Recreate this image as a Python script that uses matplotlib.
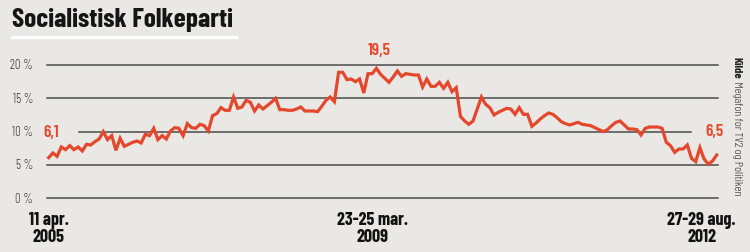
import matplotlib
matplotlib.use("Agg")
import matplotlib.pyplot as plt
from matplotlib.lines import Line2D

# Megafon polls for SF, 11 apr. 2005 -> 27-29 aug. 2012 (percent)
support_2005_2008 = [
    6.1, 6.8, 6.3, 7.7, 7.3, 7.9, 7.3, 7.7, 7.1, 8.1,
    8.0, 8.5, 8.9, 10.0, 8.8, 9.4, 7.2, 9.0, 7.8, 8.1,
    8.4, 8.6, 8.3, 9.6, 9.4, 10.5, 8.8, 9.4, 8.9, 10.1,
    10.6, 10.5, 9.4, 11.2, 10.6, 10.5, 11.1, 10.9, 10.1, 12.4,
    12.7, 13.6, 13.2, 13.2, 15.2, 13.5, 13.7, 14.7,
]
support_2008_2010 = [
    14.4, 13.1, 14.0, 13.4, 13.9, 14.4, 15.0, 13.3, 13.3, 13.2,
    13.2, 13.4, 13.7, 13.1, 13.1, 13.1, 13.0, 13.8, 14.7, 15.2,
    14.5, 18.9, 18.9, 17.8, 17.9, 17.5, 17.9, 15.8, 18.7, 18.7,
    19.5, 18.6, 18.0, 17.4, 18.2, 19.1, 18.3, 18.7, 18.6, 18.5,
    18.5, 16.7, 17.9, 16.8, 16.8, 17.4, 16.5, 17.4, 16.0, 16.6,
    12.3, 11.6, 11.1, 11.6, 13.4, 15.2, 14.1, 13.6, 12.5, 12.9,
    13.2,
]
support_2010_2012 = [
    13.5, 13.4, 12.6, 13.6, 12.6, 12.6, 10.8, 11.3, 11.9, 12.4,
    12.8, 12.6, 12.1, 11.5, 11.2, 11.0, 11.2, 11.4, 11.1, 11.0,
    10.9, 10.6, 10.3, 10.0, 10.3, 10.9, 11.4, 11.6, 11.0, 10.4,
    10.4, 10.3, 9.5, 10.5, 10.7, 10.7, 10.7, 10.5,
    8.4, 7.9, 6.9, 7.4, 7.4, 8.0, 6.0, 5.5, 7.6, 5.9,
    5.1, 5.6, 6.5,
]
support = support_2005_2008 + support_2008_2010 + support_2010_2012

grid_levels = [0, 5, 10, 15, 20]
grid_labels = ["0 %", "5 %", "10 %", "15 %", "20 %"]
date_labels = ["11 apr.\n2005", "23-25 mar.\n2009", "27-29 aug.\n2012"]

title = "Socialistisk Folkeparti"
source_bold = "Kilde"
source_rest = " Megafon for TV2 og Politiken"

BG = "#e9e8e5"
RED = "#e4472b"
GRID = "#4b4b4b"
NARROW = ["Barlow Condensed", "DejaVu Sans"]

W, H = 750, 253


def fx(x):
    return x / W


def fy(y):
    return 1 - y / H


fig = plt.figure(figsize=(W / 100, H / 100), dpi=100, facecolor=BG)
ax = fig.add_axes([fx(48.7), fy(199.3), (716.7 - 48.7) / W, (199.3 - 66) / H])
ax.set_facecolor(BG)
ax.axis("off")

n = len(support)
xs = list(range(n))
ax.set_xlim(0, n - 1)
ax.set_ylim(0, 20)


def idx(px):
    # horizontal pixel -> poll index
    return (px - 48.7) / (716.7 - 48.7) * (n - 1)


for lev, lab in zip(grid_levels, grid_labels):
    x0, x1 = idx(47), idx(718)
    if lev == 10:
        x0, x1 = idx(79), idx(691)
    ax.add_line(Line2D([x0, x1], [lev, lev], color=GRID, lw=1.1, clip_on=False))
    ax.annotate(lab, xy=(idx(33), lev), ha="right", va="center", fontsize=9,
                fontweight=300, color="#3a3a3a", family=NARROW, annotation_clip=False)

ax.plot(xs, support, color=RED, lw=2.3, solid_joinstyle="miter", clip_on=False, zorder=3)

i_max = support.index(max(support))
i_last = n - 1


def num(v):
    return f"{v:.1f}".replace(".", ",")


for i, off in zip([0, i_max, i_last], [(2, 26), (3, 19), (-2, 24)]):
    ax.annotate(num(support[i]), xy=(i, support[i]), xytext=off, textcoords="offset pixels",
                ha="center", va="center", color=RED, fontsize=12.5, fontweight="semibold",
                family=NARROW)

# date labels under the axis
for i, lab, dx in zip([0, i_max, i_last], date_labels, [0, -4, -15]):
    ax.annotate(lab, xy=(i, 0), xytext=(dx, -13), textcoords="offset pixels",
                ha="center", va="top", fontsize=13, fontweight="bold", color="#111111",
                family=NARROW, linespacing=0.95, annotation_clip=False)

# title + white rule
t = fig.text(fx(12), fy(8), title, ha="left", va="top", fontsize=19, fontweight="bold",
             color="#151515", family=NARROW)
fig.add_artist(Line2D([fx(12), fx(236)], [fy(37.5), fy(37.5)], color="white", lw=2.4))

fig.canvas.draw()
r = fig.canvas.get_renderer()
tw = t.get_window_extent(r).width
t.set_fontsize(19 * 221 / tw)

# source, rotated
s1 = fig.text(fx(737), fy(57), source_bold, rotation=270, ha="center", va="top",
              fontsize=8, fontweight="bold", color="#222222", family=NARROW)
fig.canvas.draw()
bb = s1.get_window_extent(r)
s2 = fig.text(fx(737), bb.y0 / H, source_rest, rotation=270, ha="center", va="top",
              fontsize=8, fontweight=300, color="#333333", family=NARROW)
fig.canvas.draw()
total = bb.y1 - s2.get_window_extent(r).y0
scale = (197 - 57) / total
s1.set_fontsize(8 * scale)
s2.set_fontsize(8 * scale)
fig.canvas.draw()
s2.set_y(s1.get_window_extent(r).y0 / H)

fig.savefig("out.png", dpi=100, facecolor=BG)
